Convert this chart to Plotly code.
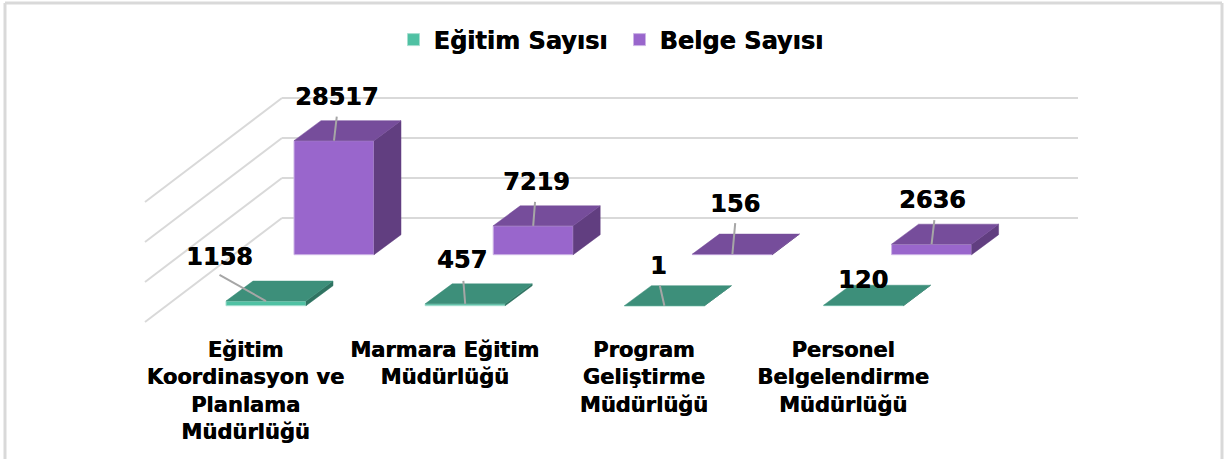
import plotly.graph_objects as go

categories = ["Eğitim<br>Koordinasyon ve<br>Planlama<br>Müdürlüğü", "Marmara Eğitim<br>Müdürlüğü",
              "Program<br>Geliştirme<br>Müdürlüğü", "Personel<br>Belgelendirme<br>Müdürlüğü"]
egitim_sayisi = [1158, 457, 1, 120]
belge_sayisi = [28517, 7219, 156, 2636]
grid_values = [10000, 20000, 30000, 40000]

# scales: horizontal px per category, px per value unit
W, H = 1227, 459
CAT = 199.2
PXV = 0.004
X0 = 245.5          # pixel of category 0 tick
Y0 = 305.7          # pixel of value 0 for front series
PLOT_B = 330        # pixel bottom of plot area
px_x = lambda px: (px - X0) / CAT
dpx_x = lambda d: d / CAT
dpx_y = lambda d: d / PXV

BAR_W = dpx_x(80)
DEPTH_X = dpx_x(27)
DEPTH_Y = dpx_y(20)
GREEN_OFF = dpx_x(-19.5)
PURPLE_OFF = GREEN_OFF + dpx_x(68)
PURPLE_BASE = dpx_y(51)
WALL_X = px_x(282)
WALL_END = px_x(1078)
WALL_FLOOR = dpx_y(Y0 - 258)
SIDE_X = dpx_x(-137)
SIDE_Y = dpx_y(-104)

GREEN = dict(front="#4FC1A3", top="#3D8F7A", side="#2F7361", edge="#A6DFD0")
PURPLE = dict(front="#9966CC", top="#764D9B", side="#613E80", edge="#CDB4E6")
HEAVY = "0.5px 0 0 #000000"


def bold(size):
    return dict(family="DejaVu Sans", size=size, color="#000000", weight="bold", shadow=HEAVY)


def faces(values, off, base):
    tx, ty, sx, sy = [], [], [], []
    for i, v in enumerate(values):
        l, r = i + off, i + off + BAR_W
        t = base + v
        tx += [l, r, r + DEPTH_X, l + DEPTH_X, l, None]
        ty += [t, t, t + DEPTH_Y, t + DEPTH_Y, t, None]
        sx += [r, r + DEPTH_X, r + DEPTH_X, r, r, None]
        sy += [t, t + DEPTH_Y, base + DEPTH_Y, base, t, None]
    return tx, ty, sx, sy


fig = go.Figure()
series = [("Eğitim Sayısı", egitim_sayisi, GREEN_OFF, 0, GREEN),
          ("Belge Sayısı", belge_sayisi, PURPLE_OFF, PURPLE_BASE, PURPLE)]
for name, vals, off, base, c in series:
    fig.add_bar(name=name, x=list(range(4)), y=vals, base=[base] * 4, offset=off, width=BAR_W,
                marker=dict(color=c["front"], line=dict(color=c["edge"], width=1)), hoverinfo="skip")
for name, vals, off, base, c in series:
    tx, ty, sx, sy = faces(vals, off, base)
    fig.add_scatter(x=sx, y=sy, mode="lines", fill="toself", fillcolor=c["side"],
                    line=dict(color=c["side"], width=0.5), showlegend=False, hoverinfo="skip")
    fig.add_scatter(x=tx, y=ty, mode="lines", fill="toself", fillcolor=c["top"],
                    line=dict(color=c["top"], width=0.5), showlegend=False, hoverinfo="skip")

shapes = []
GRID = dict(color="#D9D9D9", width=2)
for g in grid_values:
    yv = WALL_FLOOR + g
    shapes.append(dict(type="line", xref="x", yref="y", x0=WALL_X, x1=WALL_END, y0=yv, y1=yv, line=GRID, layer="below"))
    shapes.append(dict(type="line", xref="x", yref="y", x0=WALL_X, x1=WALL_X + SIDE_X, y0=yv, y1=yv + SIDE_Y, line=GRID, layer="below"))
# outer card border
BORDER = dict(color="#D9D9D9", width=3)
pb = -(H - PLOT_B) / PLOT_B
for x0, y0, x1, y1 in [(5 / W, pb, 5 / W, 1 - 3 / PLOT_B), (5 / W, 1 - 3 / PLOT_B, 1222 / W, 1 - 3 / PLOT_B), (1222 / W, 1 - 3 / PLOT_B, 1222 / W, pb)]:
    shapes.append(dict(type="line", xref="paper", yref="paper", x0=x0, x1=x1, y0=y0, y1=y1, line=BORDER, layer="below"))

# data label offsets from the bar's front-top centre (px)
green_text = [(-47, -44), (-3, -44), (-6, -40), (-1, -25)]
purple_text = [(3, -44), (3, -44), (3, -50), (1, -44)]
# where each leader line starts, relative to the same anchor (px); None = no leader
green_lead = [(-48, -27), (-2, -25), (-5, -22), None]
purple_lead = [(3, -26), (2, -26), (3, -33), (3, -26)]
anns = []
for (name, vals, off, base, c), offs, leads in zip(series, (green_text, purple_text), (green_lead, purple_lead)):
    for i, (v, (ax, ay), lead) in enumerate(zip(vals, offs, leads)):
        xa, ya = i + off + BAR_W / 2, base + v
        if lead:
            anns.append(dict(x=xa, y=ya, text=" ", ax=lead[0], ay=lead[1], showarrow=True, arrowhead=0,
                             arrowwidth=2, arrowcolor="#A6A6A6", font=dict(size=1)))
        anns.append(dict(x=xa, y=ya, text=str(v), xshift=ax, yshift=-ay, showarrow=False,
                         xanchor="center", yanchor="middle", font=bold(24)))

fig.update_layout(
    width=W, height=H, autosize=False, barmode="overlay",
    margin=dict(l=0, r=0, t=0, b=H - PLOT_B, pad=0),
    paper_bgcolor="#FFFFFF", plot_bgcolor="rgba(0,0,0,0)",
    shapes=shapes, annotations=anns,
    font=dict(family="DejaVu Sans", color="#000000"),
    legend=dict(orientation="h", x=393.5 / W, xanchor="left", y=1 - 40 / PLOT_B, yanchor="middle",
                entrywidth=181, entrywidthmode="pixels", font=bold(24),
                bgcolor="rgba(0,0,0,0)"),
    xaxis=dict(range=[px_x(0), px_x(W)], tickmode="array", tickvals=list(range(4)), ticktext=categories,
               showgrid=False, zeroline=False, showline=False, ticks="", ticklabelstandoff=5,
               tickangle=0, automargin=False, tickfont=bold(21)),
    yaxis=dict(range=[dpx_y(Y0 - PLOT_B), dpx_y(Y0)], showgrid=False, zeroline=False, showline=False,
               showticklabels=False, ticks="", automargin=False),
)
fig.write_html("out.html", config={"displayModeBar": False},
               post_script="document.body.style.margin='0';document.body.style.overflow='hidden';")
